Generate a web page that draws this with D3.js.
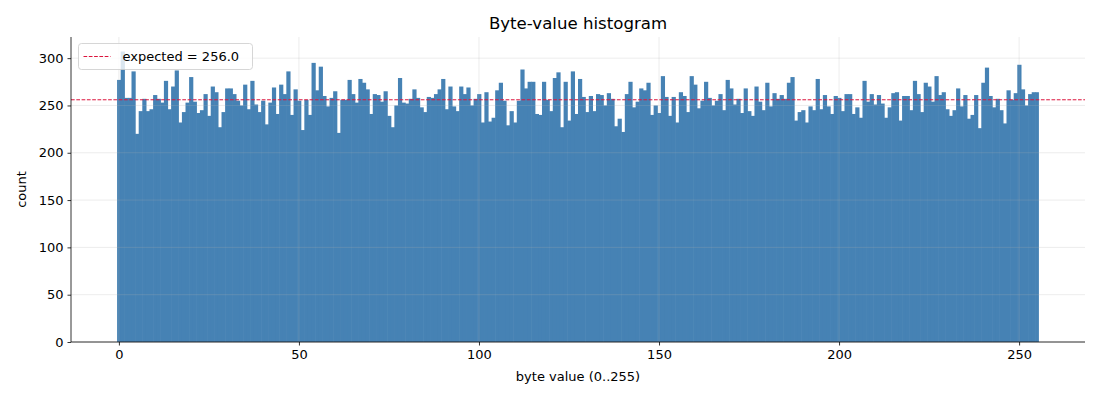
<!DOCTYPE html>
<html>
<head>
<meta charset="utf-8">
<script src="https://cdn.jsdelivr.net/npm/d3@7"></script>
<style>
  body { margin: 0; background: #fff; }
  text { font-family: "DejaVu Sans", sans-serif; fill: #000; }
</style>
</head>
<body>
<svg id="chart" width="1100" height="400"></svg>
<script>
// counts per byte value 0..255
const counts = [
  277, 307, 258, 258, 286, 220, 244, 257, 244, 246, 261, 257, 253, 276, 246, 270,
  287, 232, 243, 253, 280, 254, 242, 245, 262, 239, 270, 264, 227, 243, 268, 268,
  262, 255, 250, 272, 246, 276, 251, 243, 255, 230, 253, 269, 241, 272, 262, 286,
  240, 267, 255, 224, 256, 240, 295, 266, 291, 260, 249, 258, 265, 221, 256, 256,
  277, 262, 253, 278, 274, 267, 241, 262, 261, 254, 265, 239, 227, 250, 279, 253,
  252, 257, 267, 258, 248, 243, 259, 258, 262, 267, 278, 246, 270, 249, 244, 270,
  262, 269, 250, 257, 262, 232, 264, 233, 237, 266, 274, 255, 229, 244, 232, 255,
  288, 268, 275, 275, 241, 240, 275, 256, 244, 279, 285, 227, 275, 234, 286, 241,
  278, 259, 243, 260, 244, 262, 261, 250, 263, 257, 228, 236, 222, 262, 275, 248,
  254, 268, 266, 274, 240, 250, 242, 281, 259, 239, 259, 232, 264, 260, 243, 281,
  272, 247, 255, 275, 258, 250, 255, 262, 245, 277, 268, 251, 257, 242, 268, 244,
  239, 270, 254, 245, 274, 249, 263, 257, 261, 257, 274, 280, 234, 243, 245, 232,
  249, 245, 278, 246, 261, 249, 241, 260, 258, 244, 262, 262, 241, 248, 237, 276,
  254, 262, 251, 261, 252, 237, 248, 263, 264, 234, 260, 260, 245, 276, 262, 243,
  274, 270, 254, 281, 261, 264, 246, 239, 245, 268, 249, 261, 236, 240, 261, 226,
  274, 290, 260, 248, 257, 245, 231, 266, 256, 263, 293, 267, 250, 262, 264, 264
];
const byteValues = d3.range(256);
const expected = 256.0;
const xTicks = [0, 50, 100, 150, 200, 250];
const yTicks = [0, 50, 100, 150, 200, 250, 300];

const svg = d3.select("#chart");
const margin = { left: 71, right: 15, top: 37, bottom: 58 };
const W = 1100, H = 400;

// matplotlib-like 5% margins on x, 5% headroom on y
const lo = -0.5, hi = 255.5, pad = (hi - lo) * 0.05;
const x = d3.scaleLinear()
  .domain([lo - pad, hi + pad])
  .range([margin.left, W - margin.right]);
const y = d3.scaleLinear()
  .domain([0, d3.max(counts) * 1.05])
  .range([H - margin.bottom, margin.top]);

// bars - widened a hair so neighbours touch without white seams
svg.append("g")
  .selectAll("rect")
  .data(byteValues)
  .join("rect")
  .attr("x", (d) => x(d - 0.5))
  .attr("width", (d) => x(d + 0.5) - x(d - 0.5) + (d < 255 ? 0.6 : 0))
  .attr("y", (d) => y(counts[d]))
  .attr("height", (d) => y(0) - y(counts[d]))
  .attr("fill", "#4682b4");

// grid (drawn over the bars, faint)
const grid = svg.append("g")
  .attr("stroke", "#b0b0b0")
  .attr("stroke-opacity", 0.3)
  .attr("stroke-width", 0.8);
grid.selectAll(".gx")
  .data(xTicks)
  .join("line")
  .attr("x1", (d) => x(d)).attr("x2", (d) => x(d))
  .attr("y1", margin.top).attr("y2", H - margin.bottom);
grid.selectAll(".gy")
  .data(yTicks)
  .join("line")
  .attr("x1", margin.left).attr("x2", W - margin.right)
  .attr("y1", (d) => y(d)).attr("y2", (d) => y(d));

// expected line
svg.append("line")
  .attr("x1", margin.left).attr("x2", W - margin.right)
  .attr("y1", y(expected)).attr("y2", y(expected))
  .attr("stroke", "#dc143c")
  .attr("stroke-width", 1)
  .attr("stroke-dasharray", "3.7,1.6");

// axes
const xAxis = svg.append("g")
  .attr("transform", `translate(0,${H - margin.bottom})`)
  .call(d3.axisBottom(x).tickValues(xTicks).tickSize(3.5).tickPadding(4).tickFormat(d3.format("d")));
const yAxis = svg.append("g")
  .attr("transform", `translate(${margin.left},0)`)
  .call(d3.axisLeft(y).tickValues(yTicks).tickSize(3.5).tickPadding(4).tickFormat(d3.format("d")));
[xAxis, yAxis].forEach((g) => {
  g.select(".domain").attr("stroke", "#000").attr("stroke-width", 0.8);
  g.selectAll(".tick line").attr("stroke", "#000").attr("stroke-width", 0.8);
  g.selectAll(".tick text")
    .attr("font-size", 13)
    .attr("font-family", "DejaVu Sans, sans-serif")
    .attr("fill", "#000");
});
// no spine extension beyond the plot, like matplotlib
xAxis.select(".domain").attr("d", `M${margin.left},0H${W - margin.right}`);
yAxis.select(".domain").attr("d", `M0,${H - margin.bottom}V${margin.top}`);

// title and labels
svg.append("text")
  .attr("x", (margin.left + W - margin.right) / 2)
  .attr("y", 29)
  .attr("text-anchor", "middle")
  .attr("font-size", 16.6)
  .text("Byte-value histogram");
svg.append("text")
  .attr("x", (margin.left + W - margin.right) / 2)
  .attr("y", 381)
  .attr("text-anchor", "middle")
  .attr("font-size", 13)
  .text("byte value (0..255)");
svg.append("text")
  .attr("transform", `translate(26,${(margin.top + H - margin.bottom) / 2}) rotate(-90)`)
  .attr("text-anchor", "middle")
  .attr("font-size", 13)
  .text("count");

// legend
const lg = svg.append("g").attr("transform", "translate(78.5,43.5)");
lg.append("rect")
  .attr("width", 174).attr("height", 26).attr("rx", 3)
  .attr("fill", "#fff").attr("fill-opacity", 0.8)
  .attr("stroke", "#ccc").attr("stroke-width", 0.8);
lg.append("line")
  .attr("x1", 5).attr("x2", 32).attr("y1", 13).attr("y2", 13)
  .attr("stroke", "#dc143c").attr("stroke-width", 1)
  .attr("stroke-dasharray", "3.7,1.6");
lg.append("text")
  .attr("x", 44).attr("y", 17.5)
  .attr("font-size", 13)
  .text(`expected = ${expected.toFixed(1)}`);
</script>
</body>
</html>
